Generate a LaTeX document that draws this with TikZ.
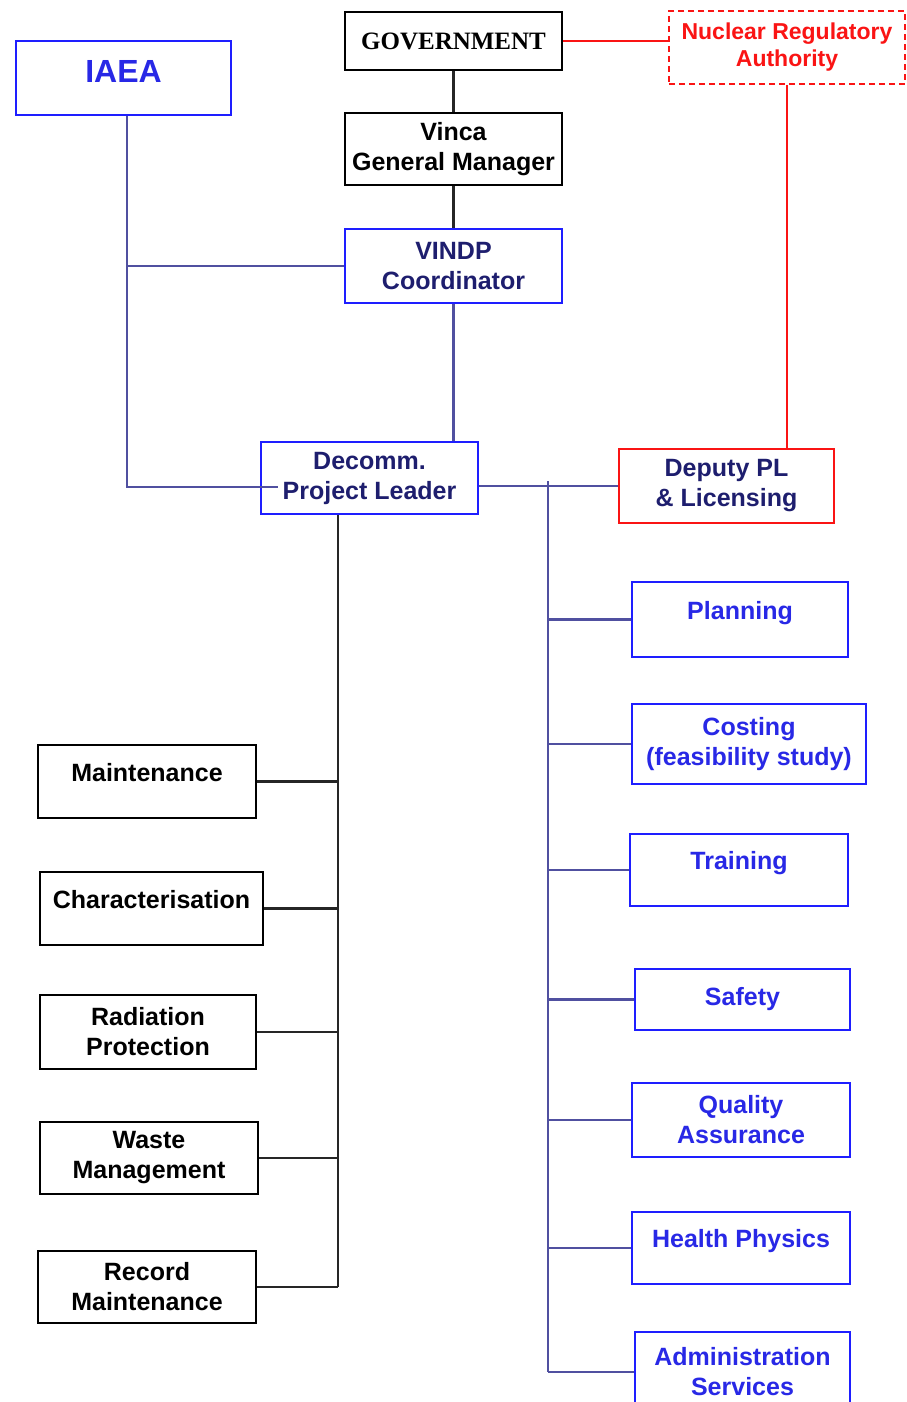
\documentclass[tikz,border=0pt]{standalone}
\usepackage{fontspec}
\setmainfont{Liberation Sans}
\newfontfamily\govfont{Liberation Serif}
\definecolor{boxblue}{RGB}{30,30,255}
\definecolor{textblue}{RGB}{40,40,230}
\definecolor{navytext}{RGB}{30,30,110}
\definecolor{linknavy}{RGB}{80,80,160}
\definecolor{nrared}{RGB}{250,20,20}
\newcommand{\orgfont}{\fontsize{25}{30}\selectfont\bfseries}
\begin{document}
\begin{tikzpicture}[x=1pt, y=-1pt,
    every node/.style={rectangle, draw, line width=2pt, inner sep=0pt, align=center, font=\orgfont},
    blackbox/.style={draw=black, text=black},
    bluebox/.style={draw=boxblue, text=textblue},
    navybox/.style={draw=boxblue, text=navytext},
    redbox/.style={draw=nrared, text=navytext},
    uptext/.style={text depth=19pt},
    navylink/.style={draw=linknavy, line width=2.5pt},
    blacklink/.style={draw=black!85, line width=2.2pt},
    redlink/.style={draw=nrared, line width=2.2pt}]
    \clip (0,0) rectangle (907,1402);
    \fill[white] (0,0) rectangle (907,1402);

    % top of the chart
    \node[blackbox, minimum width=217pt, minimum height=58pt, font=\govfont\fontsize{25}{30}\selectfont\bfseries] (gov) at (453.5,41) {GOVERNMENT};
    \node[bluebox, minimum width=215pt, minimum height=74pt, text depth=14pt, font=\fontsize{32}{36}\selectfont\bfseries] (iaea) at (123.5,78) {IAEA};
    \node[draw=nrared, text=nrared, dashed, dash pattern=on 6pt off 4pt, minimum width=236pt, minimum height=73pt, font=\fontsize{23}{27}\selectfont\bfseries] (nra) at (787,47.5) {Nuclear Regulatory\\Authority};
    \node[blackbox, minimum width=217pt, minimum height=72pt] (vinca) at (453.5,149) {Vinca\\General Manager};
    \node[navybox, minimum width=217pt, minimum height=74pt] (vindp) at (453.5,266) {VINDP\\Coordinator};
    \node[navybox, minimum width=217pt, minimum height=72pt] (leader) at (369.5,478) {Decomm.\\Project Leader};
    \node[redbox, minimum width=215pt, minimum height=74pt] (deputy) at (726.5,486) {Deputy PL\\\& Licensing};

    % right column
    \node[bluebox, minimum width=216pt, minimum height=75pt, uptext] (planning) at (740,619.5) {Planning};
    \node[bluebox, minimum width=234pt, minimum height=80pt] (costing) at (749,744) {Costing\\(feasibility study)};
    \node[bluebox, minimum width=218pt, minimum height=72pt, uptext] (training) at (739,870) {Training};
    \node[bluebox, minimum width=215pt, minimum height=61pt] (safety) at (742.5,999.5) {Safety};
    \node[bluebox, minimum width=218pt, minimum height=74pt] (quality) at (741,1120) {Quality\\Assurance};
    \node[bluebox, minimum width=218pt, minimum height=72pt, uptext] (health) at (741,1248) {Health Physics};
    \node[bluebox, minimum width=215pt, minimum height=80pt] (admin) at (742.5,1372) {Administration\\Services};

    % left column
    \node[blackbox, minimum width=218pt, minimum height=73pt, uptext] (maint) at (147,781.5) {Maintenance};
    \node[blackbox, minimum width=223pt, minimum height=73pt, uptext] (charact) at (151.5,908.5) {Characterisation};
    \node[blackbox, minimum width=216pt, minimum height=74pt] (radiation) at (148,1032) {Radiation\\Protection};
    \node[blackbox, minimum width=218pt, minimum height=72pt] (waste) at (149,1158) {Waste\\Management};
    \node[blackbox, minimum width=218pt, minimum height=72pt] (record) at (147,1287) {Record\\Maintenance};

    \coordinate (ibus) at (127,0);
    \coordinate (lbus) at (338,0);
    \coordinate (rbus) at (548,481);
    \coordinate (ljoin) at ([yshift=-9pt, xshift=18pt]leader.west);

    \draw[blacklink] (gov) -- (vinca);
    \draw[blacklink] (vinca) -- (vindp);
    \draw[redlink] (gov.east) -- (gov.east -| nra.west);
    \draw[redlink] (nra.south) -- (nra.south |- deputy.north);

    \draw[navylink] (ibus |- iaea.south) -- (ibus |- ljoin) -- (ljoin);
    \draw[navylink] (ibus |- vindp.west) -- (vindp.west);
    \draw[navylink] (vindp.south) -- (vindp.south |- leader.north);
    \draw[navylink] (deputy.west -| leader.east) -- (deputy.west);

    % right branches
    \draw[navylink] (rbus) -- (rbus |- admin.west);
    \foreach \b in {planning, costing, training, safety, quality, health, admin}
        \draw[navylink] (rbus |- \b.west) -- (\b.west);

    % left branches
    \draw[blacklink] (lbus |- leader.south) -- (lbus |- record.east);
    \foreach \b in {maint, charact, radiation, waste, record}
        \draw[blacklink] (\b.east) -- (lbus |- \b.east);
\end{tikzpicture}
\end{document}
